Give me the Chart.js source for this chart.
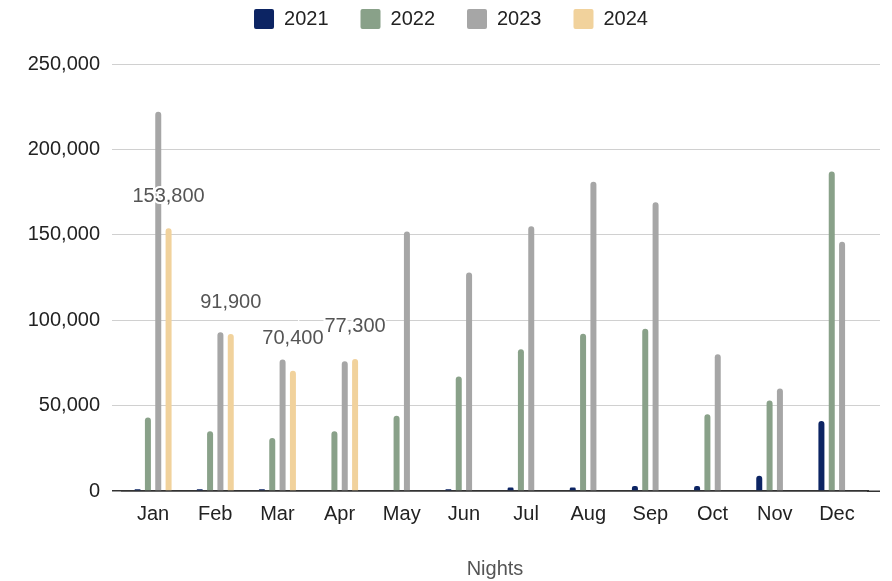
<!DOCTYPE html>
<html>
<head>
<meta charset="utf-8">
<script src="https://cdn.jsdelivr.net/npm/chart.js@4"></script>
<style>
  body { margin: 0; background: #fff; }
  #wrap { width: 892px; height: 581px; }
</style>
</head>
<body>
<div id="wrap"><canvas id="myChart" width="892" height="581"></canvas></div>
<script>
var months = ['Jan', 'Feb', 'Mar', 'Apr', 'May', 'Jun', 'Jul', 'Aug', 'Sep', 'Oct', 'Nov', 'Dec'];
var nights2021 = [1000, 1000, 1000, 0, 0, 1000, 2000, 2000, 3000, 3000, 9000, 41000];
var nights2022 = [43000, 35000, 31000, 35000, 44000, 67000, 83000, 92000, 95000, 45000, 53000, 187000];
var nights2023 = [222000, 93000, 77000, 76000, 152000, 128000, 155000, 181000, 169000, 80000, 60000, 146000];
var nights2024 = [153800, 91900, 70400, 77300, null, null, null, null, null, null, null, null];
var yTicks = [0, 50000, 100000, 150000, 200000, 250000];

var font = '"Liberation Sans", Arial, sans-serif';

// value labels above the 2024 bars, with a white halo like the original
var valueLabels = {
    id: 'valueLabels',
    afterDatasetsDraw: function(chart) {
        var ctx = chart.ctx;
        var meta = chart.getDatasetMeta(3);
        ctx.save();
        ctx.font = '20px ' + font;
        ctx.textAlign = 'center';
        ctx.textBaseline = 'middle';
        meta.data.forEach(function(bar, i) {
            var v = nights2024[i];
            if (v == null) return;
            var txt = v.toLocaleString('en-US');
            ctx.lineWidth = 4;
            ctx.strokeStyle = '#fff';
            ctx.strokeText(txt, bar.x, bar.y - 32);
            ctx.fillStyle = '#555';
            ctx.fillText(txt, bar.x, bar.y - 32);
        });
        ctx.restore();
    }
};

// gridlines run a little past the plot on the right
var gridExtend = {
    id: 'gridExtend',
    beforeDatasetsDraw: function(chart) {
        var ctx = chart.ctx, y = chart.scales.y, a = chart.chartArea;
        ctx.save();
        yTicks.forEach(function(t) {
            var zero = t === 0;
            var w = zero ? 1.5 : 1;
            var py = Math.round(y.getPixelForValue(t) + w / 2) - w / 2;
            ctx.strokeStyle = zero ? '#333' : '#d0d0d0';
            ctx.lineWidth = w;
            ctx.beginPath();
            ctx.moveTo(a.right - 1, py);
            ctx.lineTo(a.right + 12, py);
            ctx.stroke();
        });
        ctx.restore();
    }
};

// legend box keeps the room above the plot, but is drawn higher and a bit right
var legendPlace = {
    id: 'legendPlace',
    afterInit: function(chart) {
        var lg = chart.legend, fit = lg.fit;
        lg.fit = function() {
            fit.apply(this, arguments);
            this.height = 64;
        };
    },
    afterLayout: function(chart) {
        chart.legend.top -= 23;
        chart.legend.left += 34;
    }
};

function gridColour(c) {
    return c.tick && c.tick.value === 0 ? '#333' : '#d0d0d0';
}

var ctx = document.getElementById('myChart').getContext('2d');
var myChart = new Chart(ctx, {
    type: 'bar',
    data: {
        labels: months,
        datasets: [
            { label: '2021', data: nights2021, backgroundColor: '#0c2463' },
            { label: '2022', data: nights2022, backgroundColor: '#89a189' },
            { label: '2023', data: nights2023, backgroundColor: '#a6a6a6' },
            { label: '2024', data: nights2024, backgroundColor: '#f1d29c' }
        ]
    },
    plugins: [gridExtend, valueLabels, legendPlace],
    options: {
        responsive: false,
        animation: false,
        devicePixelRatio: 1,
        categoryPercentage: 0.665,
        barPercentage: 0.58,
        borderRadius: 3,
        layout: { padding: { left: 0, right: 24, top: 0, bottom: 0 } },
        plugins: {
            legend: {
                position: 'top',
                labels: {
                    font: { family: font, size: 20 },
                    color: '#222',
                    boxWidth: 20,
                    boxHeight: 20,
                    padding: 32,
                    useBorderRadius: true,
                    borderRadius: 2
                }
            },
            tooltip: { enabled: false }
        },
        scales: {
            x: {
                afterFit: function(scale) { scale.height = 90; },
                grid: { display: false, drawTicks: false },
                border: { display: true, color: '#333', width: 1.5 },
                ticks: { font: { family: font, size: 20 }, color: '#222', padding: 11 },
                title: {
                    display: true,
                    text: 'Nights',
                    font: { family: font, size: 20 },
                    color: '#555',
                    padding: { top: 0, bottom: 0 }
                }
            },
            y: {
                min: 0,
                max: 250000,
                afterBuildTicks: function(scale) {
                    scale.ticks = yTicks.map(function(v) { return { value: v }; });
                },
                afterFit: function(scale) { scale.width = 122; },
                grid: {
                    color: gridColour,
                    tickColor: gridColour,
                    lineWidth: function(c) { return c.tick && c.tick.value === 0 ? 1.5 : 1; },
                    tickLength: 10
                },
                border: { display: false },
                ticks: {
                    font: { family: font, size: 20 },
                    color: '#222',
                    padding: 12,
                    callback: function(v) { return v.toLocaleString('en-US'); }
                }
            }
        }
    }
});
</script>
</body>
</html>
